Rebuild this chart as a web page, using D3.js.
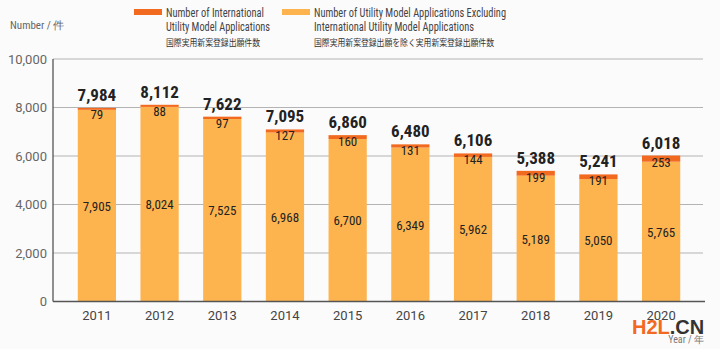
<!DOCTYPE html>
<html><head><meta charset="utf-8">
<script src="https://cdn.jsdelivr.net/npm/d3@7"></script>
<style>
html,body{margin:0;padding:0;background:#fcfbfc;}
svg{display:block;}
</style></head>
<body><svg id="c" width="720" height="349"></svg>
<script>
const years = ["2011","2012","2013","2014","2015","2016","2017","2018","2019","2020"];
const domestic = [7905,8024,7525,6968,6700,6349,5962,5189,5050,5765];
const international = [79,88,97,127,160,131,144,199,191,253];
const totals = [7984,8112,7622,7095,6860,6480,6106,5388,5241,6018];
const yTicks = [0,2000,4000,6000,8000,10000];

(function(){
const svg = d3.select("#c");
const mL = 53, mR = 705, mT = 59, mB = 301.5;
const x = d3.scaleBand().domain(years).range([mL, mR]).paddingInner(0.39).paddingOuter(0.395);
const y = d3.scaleLinear().domain([0,10000]).range([mB, mT]);
const cond = "'Roboto Condensed','Liberation Sans Narrow','Roboto',sans-serif";
const light = "#fdb44f", dark = "#f26a1f";

// grid
svg.append("g").selectAll("line").data(yTicks.filter(d=>d>0)).join("line")
  .attr("x1", mL).attr("x2", 703).attr("y1", d=>y(d)).attr("y2", d=>y(d))
  .attr("stroke", "#b3b3b3").attr("stroke-width", 1);

// y axis
const ya = svg.append("g").attr("transform", `translate(${mL},0)`)
  .call(d3.axisLeft(y).tickValues(yTicks).tickFormat(d3.format(",")).tickSize(0).tickPadding(6));
ya.select(".domain").remove();
ya.selectAll("text").attr("font-family","Roboto,sans-serif").attr("font-size",13).attr("fill","#666");

// bars
const g = svg.append("g");
g.selectAll("rect.d").data(years).join("rect").attr("class","d")
  .attr("x", d=>x(d)).attr("width", x.bandwidth())
  .attr("y", (d,i)=>y(domestic[i])).attr("height", (d,i)=>mB - y(domestic[i]))
  .attr("fill", light);
g.selectAll("rect.i").data(years).join("rect").attr("class","i")
  .attr("x", d=>x(d)).attr("width", x.bandwidth())
  .attr("y", (d,i)=>y(totals[i])).attr("height", (d,i)=>y(domestic[i]) - y(totals[i]))
  .attr("fill", dark);

// axes lines
svg.append("line").attr("x1",mL).attr("x2",mL).attr("y1",mT).attr("y2",mB).attr("stroke","#555").attr("stroke-width",1.3);
svg.append("line").attr("x1",mL).attr("x2",705).attr("y1",mB).attr("y2",mB).attr("stroke","#555").attr("stroke-width",1.3);

// x axis labels
svg.append("g").selectAll("text").data(years).join("text")
  .attr("x", d=>x(d)+x.bandwidth()/2).attr("y", 320)
  .attr("text-anchor","middle").attr("font-family","Roboto,sans-serif").attr("font-size",13).attr("fill","#444")
  .text(d=>d);

// value labels
const fmt = d3.format(",");
g.selectAll("text.t").data(years).join("text").attr("class","t")
  .attr("x", d=>x(d)+x.bandwidth()/2).attr("y", (d,i)=>y(totals[i]) - 7)
  .attr("text-anchor","middle").attr("font-family",cond).attr("font-weight","bold").attr("font-size",17).attr("fill","#222")
  .text((d,i)=>fmt(totals[i]));
g.selectAll("text.in").data(years).join("text").attr("class","in")
  .attr("x", d=>x(d)+x.bandwidth()/2).attr("y", (d,i)=>y(totals[i]) + 11)
  .attr("text-anchor","middle").attr("font-family",cond).attr("font-size",13).attr("fill","#222")
  .text((d,i)=>fmt(international[i]));
g.selectAll("text.dm").data(years).join("text").attr("class","dm")
  .attr("x", d=>x(d)+x.bandwidth()/2).attr("y", (d,i)=>(y(domestic[i])+mB)/2 + 5)
  .attr("text-anchor","middle").attr("font-family",cond).attr("font-size",13).attr("fill","#222")
  .text((d,i)=>fmt(domestic[i]));

// axis titles
svg.append("text").attr("x",10).attr("y",29).attr("font-family",cond).attr("font-size",11).attr("fill","#666").text("Number / 件");
svg.append("text").attr("x",704).attr("y",343).attr("text-anchor","end").attr("font-family",cond).attr("font-size",10).attr("fill","#777").text("Year / 年");

// legend
const leg = [
  {c: dark, x: 134, lines: ["Number of International", "Utility Model Applications"], w: [98,104], jp: "国際実用新案登録出願件数", jw: 94},
  {c: light, x: 282, lines: ["Number of Utility Model Applications Excluding", "International Utility Model  Applications"], w: [192,160], jp: "国際実用新案登録出願を除く実用新案登録出願件数", jw: 180}
];
const lg = svg.append("g").selectAll("g").data(leg).join("g");
lg.append("rect").attr("x",d=>d.x).attr("y",9).attr("width",28).attr("height",6).attr("fill",d=>d.c);
lg.each(function(d){
  const s = d3.select(this);
  d.lines.forEach((t,i)=>{
    s.append("text").attr("x",d.x+32).attr("y",17+i*13.5).attr("font-family",cond).attr("font-size",13).attr("fill","#444")
      .attr("textLength", d.w[i]).attr("lengthAdjust","spacingAndGlyphs").text(t);
  });
  s.append("text").attr("x",d.x+32).attr("y",46).attr("font-family","'Noto Sans CJK JP',sans-serif").attr("font-size",9).attr("fill","#333")
    .attr("textLength", d.jw).attr("lengthAdjust","spacingAndGlyphs").text(d.jp);
});

// watermark
const wm = svg.append("text").attr("x",632).attr("y",334).attr("font-family","'Liberation Sans',Arial,sans-serif").attr("font-weight","bold").attr("font-size",20);
wm.append("tspan").attr("fill","#f26a1f").text("H2L");
wm.append("tspan").attr("fill","#333").text(".CN");
})();
</script></body></html>
